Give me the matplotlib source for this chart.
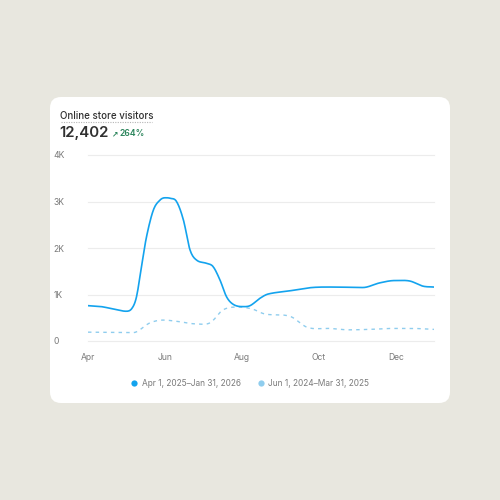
"""Online store visitors card: current vs previous period line chart."""

import numpy as np
import matplotlib.pyplot as plt
from matplotlib.patches import FancyBboxPatch
from matplotlib.lines import Line2D

plt.rcParams["font.family"] = ["Inter", "DejaVu Sans"]

# Data (x = months since Apr 1, values in thousands of visitors)
current_x = [0.0, 0.34, 0.70, 0.99, 1.14, 1.26, 1.39, 1.52, 1.70, 1.87, 2.0,
             2.13, 2.30, 2.48, 2.65, 2.82, 3.08, 3.25, 3.43, 3.60, 3.77, 3.99,
             4.21, 4.47, 4.68, 5.25, 5.82, 6.42, 7.14, 7.58, 7.97, 8.36, 8.7,
             8.99]
current_y = [0.76, 0.74, 0.68, 0.64, 0.70, 0.95, 1.6, 2.24, 2.82, 3.03, 3.08,
             3.07, 3.0, 2.6, 1.96, 1.74, 1.67, 1.6, 1.31, 0.95, 0.79, 0.74,
             0.76, 0.92, 1.01, 1.08, 1.15, 1.16, 1.15, 1.25, 1.30, 1.29, 1.18,
             1.16]
previous_x = [0.0, 1.17, 1.61, 1.95, 2.34, 2.78, 3.17, 3.51, 3.9, 4.26, 4.6,
              5.25, 5.71, 6.29, 6.75, 7.32, 7.9, 8.42, 8.99]
previous_y = [0.19, 0.18, 0.39, 0.45, 0.42, 0.37, 0.39, 0.67, 0.73, 0.69, 0.58,
              0.53, 0.29, 0.27, 0.24, 0.25, 0.27, 0.27, 0.25]

tick_pos = [0, 2, 4, 6, 8]
tick_labels = ["Apr", "Jun", "Aug", "Oct", "Dec"]
y_ticks = [0, 1, 2, 3, 4]
y_labels = ["0", "1K", "2K", "3K", "4K"]

legend_labels = ["Apr 1, 2025\u2013Jan 31, 2026", "Jun 1, 2024\u2013Mar 31, 2025"]
total_label = "12,402"
change_label = "264%"

BLUE = "#13a3ee"
LIGHT_BLUE = "#8fcdee"


def smooth(x, y, n=500):
    """Cubic Hermite curve with centred tangents, flat at local extrema."""
    x = np.asarray(x, float)
    y = np.asarray(y, float)
    h = np.diff(x)
    d = np.diff(y) / h
    m = np.zeros_like(y)
    m[0], m[-1] = d[0], d[-1]
    for i in range(1, len(y) - 1):
        if d[i - 1] * d[i] <= 0:
            m[i] = 0
        else:
            m[i] = (y[i + 1] - y[i - 1]) / (x[i + 1] - x[i - 1])
    xs = np.linspace(x[0], x[-1], n)
    idx = np.clip(np.searchsorted(x, xs) - 1, 0, len(h) - 1)
    t = (xs - x[idx]) / h[idx]
    h00 = 2 * t**3 - 3 * t**2 + 1
    h10 = t**3 - 2 * t**2 + t
    h01 = -2 * t**3 + 3 * t**2
    h11 = t**3 - t**2
    ys = (h00 * y[idx] + h10 * h[idx] * m[idx] + h01 * y[idx + 1]
          + h11 * h[idx] * m[idx + 1])
    return xs, ys


fig = plt.figure(figsize=(5, 5), dpi=100)
fig.patch.set_facecolor("#e8e7df")

# White card (behind the axes)
card = FancyBboxPatch((0.1, 0.194), 0.8, 0.612,
                      boxstyle="round,pad=0,rounding_size=0.022",
                      transform=fig.transFigure, facecolor="white",
                      edgecolor="none", zorder=-1)
fig.patches.append(card)

# Header texts
fig.text(0.121, 0.768, "Online store visitors", fontsize=7.0,
         fontweight="medium", color="#303030", va="center", ha="left")
fig.add_artist(Line2D([0.121, 0.303], [0.757, 0.757], transform=fig.transFigure,
                      color="#b5b5b5", lw=0.8, linestyle=(0, (1, 1.2))))
fig.text(0.119, 0.733, total_label, fontsize=10.8, fontweight="semibold",
         color="#303030", va="center", ha="left")
fig.text(0.224, 0.733, "\u2197", fontsize=5.5, fontweight="bold",
         color="#29845a", va="center", ha="left", family=["DejaVu Sans"])
fig.text(0.239, 0.733, change_label, fontsize=6.2, fontweight="semibold",
         color="#29845a", va="center", ha="left")

ax = fig.add_axes([0.176, 0.318, 0.692, 0.372])
ax.set_facecolor("none")

xs, ys = smooth(previous_x, previous_y)
ax.plot(xs, ys, color=LIGHT_BLUE, lw=1.0, linestyle=(0, (2.5, 3)), zorder=3)
xs, ys = smooth(current_x, current_y)
ax.plot(xs, ys, color=BLUE, lw=1.2, zorder=4, solid_capstyle="round",
        solid_joinstyle="round")

ax.set_xlim(0, 8.99)
ax.set_ylim(0, 4)
for v in y_ticks:
    ax.axhline(v, color="#ececec", lw=0.8, zorder=1, clip_on=False)

ax.set_yticks(y_ticks)
ax.set_yticklabels(y_labels)
ax.set_xticks(tick_pos)
ax.set_xticklabels(tick_labels)
ax.tick_params(axis="both", length=0, labelsize=6.2, labelcolor="#7a7a7a")
ax.tick_params(axis="y", pad=25)
ax.tick_params(axis="x", pad=9)
for lab in ax.get_yticklabels():
    lab.set_horizontalalignment("left")
for s in ax.spines.values():
    s.set_visible(False)

# Legend
handles = [
    Line2D([], [], marker="o", color="none", markerfacecolor=BLUE,
           markeredgecolor="none", markersize=4.5),
    Line2D([], [], marker="o", color="none", markerfacecolor=LIGHT_BLUE,
           markeredgecolor="none", markersize=4.5),
]
leg = fig.legend(handles, legend_labels, loc="center", ncol=2,
                 bbox_to_anchor=(0.5, 0.234), frameon=False, fontsize=6.0,
                 handlelength=0.8, handletextpad=0.5, columnspacing=2.0)
for t in leg.get_texts():
    t.set_color("#7a7a7a")

fig.savefig("out.png", dpi=100, facecolor=fig.get_facecolor())
